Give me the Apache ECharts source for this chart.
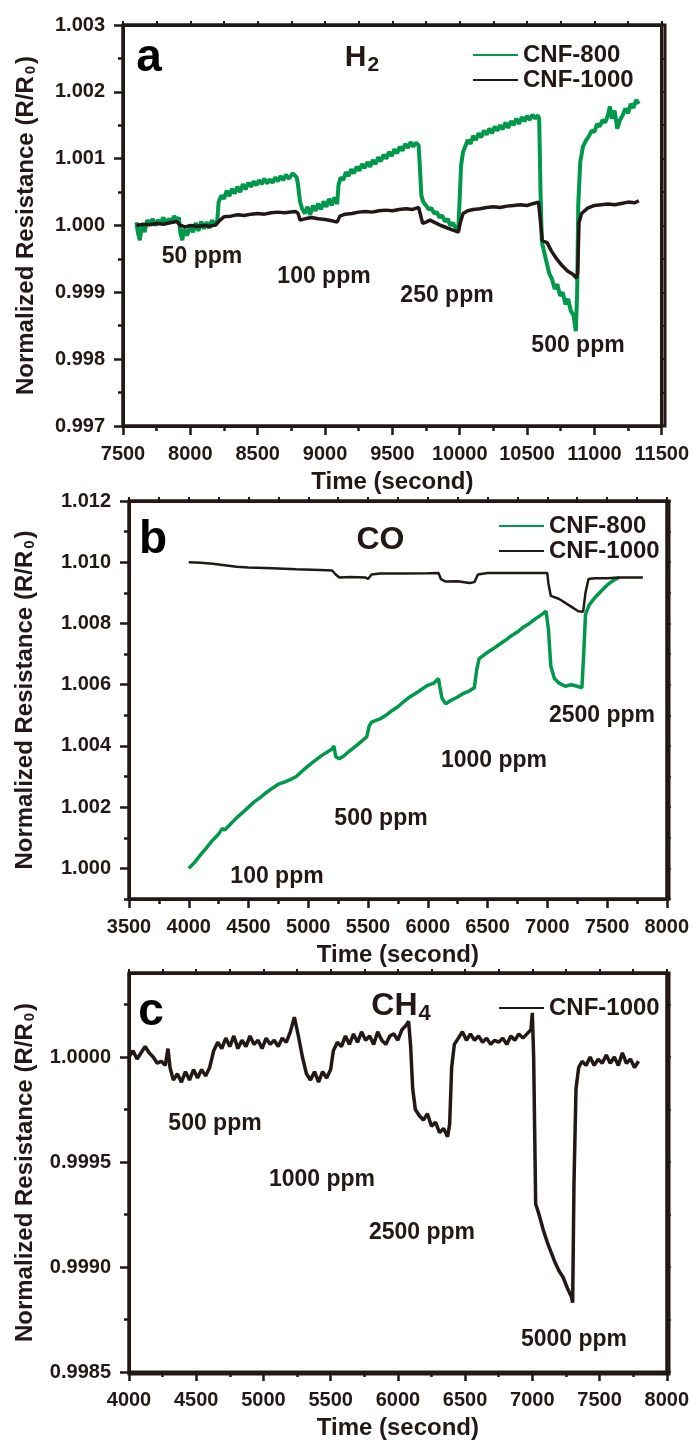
<!DOCTYPE html>
<html>
<head>
<meta charset="utf-8">
<script src="https://cdn.jsdelivr.net/npm/echarts@6/dist/echarts.min.js"></script>
<style>
  html, body { margin: 0; padding: 0; background: #fff; }
  #main { width: 692px; height: 1441px; }
</style>
</head>
<body>
<div id="main"></div>
<script>
// ---- data: [time (s), R/R0] ----

// (a) H2
var h2Cnf800 = [
  [7600,1.00005],[7610,0.99990],[7625,0.99978],[7640,1.00002],[7660,0.99990],[7680,1.00008],[7700,1.00002],
  [7720,1.00010],[7740,1.00000],[7760,1.00008],[7780,1.00004],[7800,1.00012],[7820,1.00003],[7840,1.00010],
  [7860,1.00006],[7880,1.00014],[7900,1.00008],[7915,1.00012],[7925,0.99990],[7940,0.99978],[7955,0.99995],
  [7975,0.99985],[8000,1.00000],[8020,0.99990],[8040,1.00004],[8060,0.99992],[8080,1.00006],[8100,0.99995],
  [8120,1.00005],[8140,0.99996],[8160,1.00008],[8180,1.00000],[8200,1.00008],[8210,1.00035],[8230,1.00045],
  [8250,1.00040],[8270,1.00052],[8290,1.00044],[8310,1.00055],[8330,1.00048],[8350,1.00058],[8370,1.00050],
  [8390,1.00062],[8410,1.00054],[8430,1.00064],[8450,1.00058],[8470,1.00066],[8490,1.00060],[8510,1.00068],
  [8530,1.00062],[8550,1.00070],[8570,1.00063],[8590,1.00069],[8610,1.00064],[8630,1.00072],[8650,1.00066],
  [8670,1.00074],[8690,1.00068],[8710,1.00076],[8730,1.00070],[8760,1.00078],[8790,1.00072],[8800,1.00060],
  [8815,1.00035],[8830,1.00025],[8850,1.00018],[8870,1.00028],[8890,1.00016],[8910,1.00030],[8930,1.00022],
  [8950,1.00033],[8970,1.00024],[8990,1.00036],[9010,1.00028],[9030,1.00040],[9050,1.00030],[9070,1.00042],
  [9090,1.00032],[9100,1.00060],[9115,1.00072],[9135,1.00068],[9155,1.00080],[9175,1.00074],[9195,1.00084],
  [9215,1.00078],[9235,1.00088],[9255,1.00082],[9275,1.00092],[9295,1.00086],[9315,1.00095],[9335,1.00088],
  [9355,1.00098],[9375,1.00092],[9395,1.00102],[9415,1.00096],[9435,1.00106],[9455,1.00100],[9475,1.00110],
  [9495,1.00104],[9515,1.00114],[9535,1.00108],[9555,1.00118],[9575,1.00112],[9595,1.00122],[9615,1.00116],
  [9635,1.00125],[9655,1.00118],[9675,1.00124],[9695,1.00120],[9705,1.00085],[9715,1.00045],[9730,1.00035],
  [9750,1.00030],[9770,1.00024],[9790,1.00026],[9810,1.00018],[9830,1.00020],[9850,1.00012],[9870,1.00015],
  [9890,1.00006],[9910,1.00010],[9930,1.00000],[9950,1.00004],[9970,0.99996],[9990,0.99998],[10000,1.00040],
  [10010,1.00090],[10025,1.00110],[10040,1.00118],[10060,1.00128],[10080,1.00122],[10100,1.00134],[10120,1.00128],
  [10140,1.00138],[10160,1.00132],[10180,1.00142],[10200,1.00136],[10220,1.00145],[10240,1.00138],[10260,1.00148],
  [10280,1.00142],[10300,1.00150],[10320,1.00144],[10340,1.00154],[10360,1.00146],[10380,1.00156],[10400,1.00150],
  [10420,1.00160],[10440,1.00152],[10460,1.00162],[10480,1.00156],[10500,1.00164],[10520,1.00158],[10540,1.00166],
  [10560,1.00160],[10580,1.00165],[10590,1.00160],[10600,1.00050],[10610,0.99975],[10625,0.99962],[10645,0.99945],
  [10665,0.99928],[10685,0.99920],[10705,0.99905],[10725,0.99912],[10745,0.99895],[10765,0.99900],[10785,0.99882],
  [10805,0.99890],[10825,0.99872],[10845,0.99866],[10862,0.99842],[10872,0.99900],[10880,1.00030],[10895,1.00095],
  [10915,1.00118],[10940,1.00128],[10960,1.00134],[10980,1.00142],[11000,1.00140],[11020,1.00152],[11040,1.00148],
  [11060,1.00158],[11080,1.00154],[11100,1.00165],[11115,1.00178],[11130,1.00160],[11150,1.00172],[11170,1.00145],
  [11190,1.00158],[11210,1.00165],[11230,1.00175],[11250,1.00168],[11270,1.00182],[11290,1.00176],[11310,1.00188],
  [11330,1.00182]
];
var h2Cnf1000 = [
  [7600,1.00000],[7650,1.00002],[7700,1.00001],[7750,1.00003],[7800,1.00002],[7850,1.00004],[7900,1.00006],
  [7920,1.00001],[7960,0.99998],[8000,1.00000],[8050,0.99999],[8100,1.00000],[8150,0.99999],[8190,1.00001],
  [8220,1.00008],[8250,1.00013],[8300,1.00014],[8350,1.00016],[8400,1.00015],[8450,1.00017],[8500,1.00018],
  [8550,1.00017],[8600,1.00019],[8650,1.00020],[8700,1.00019],[8780,1.00021],[8800,1.00018],[8815,1.00008],
  [8850,1.00010],[8900,1.00012],[8950,1.00010],[9000,1.00009],[9050,1.00007],[9090,1.00005],[9110,1.00014],
  [9150,1.00017],[9200,1.00018],[9250,1.00020],[9300,1.00021],[9350,1.00020],[9400,1.00022],[9450,1.00023],
  [9500,1.00022],[9550,1.00024],[9600,1.00025],[9650,1.00024],[9695,1.00027],[9710,1.00015],[9725,1.00003],
  [9750,1.00005],[9780,1.00008],[9820,1.00004],[9860,1.00000],[9900,0.99997],[9950,0.99993],[9990,0.99990],
  [10005,1.00005],[10025,1.00018],[10060,1.00022],[10100,1.00024],[10150,1.00025],[10200,1.00027],[10250,1.00028],
  [10300,1.00027],[10350,1.00029],[10400,1.00030],[10450,1.00031],[10500,1.00030],[10550,1.00033],[10585,1.00035],
  [10600,1.00005],[10612,0.99978],[10630,0.99976],[10650,0.99974],[10680,0.99962],[10720,0.99950],[10760,0.99940],
  [10800,0.99932],[10840,0.99927],[10868,0.99921],[10876,0.99930],[10886,1.00005],[10905,1.00018],[10950,1.00026],
  [11000,1.00030],[11050,1.00031],[11100,1.00032],[11150,1.00031],[11200,1.00033],[11250,1.00035],[11300,1.00034],
  [11330,1.00037]
];

// (b) CO
var coCnf800 = [
  [4000,1.00000],[4050,1.00020],[4100,1.00045],[4150,1.00068],[4200,1.00092],[4250,1.00112],[4280,1.00130],
  [4300,1.00125],[4350,1.00145],[4400,1.00165],[4450,1.00182],[4500,1.00200],[4550,1.00218],[4600,1.00232],
  [4650,1.00248],[4700,1.00262],[4750,1.00275],[4800,1.00282],[4850,1.00290],[4900,1.00300],[4950,1.00318],
  [5000,1.00335],[5050,1.00350],[5100,1.00365],[5150,1.00378],[5200,1.00390],[5215,1.00400],[5230,1.00365],
  [5260,1.00358],[5300,1.00368],[5350,1.00385],[5400,1.00400],[5460,1.00420],[5490,1.00430],[5510,1.00465],
  [5530,1.00478],[5600,1.00488],[5650,1.00500],[5700,1.00515],[5750,1.00528],[5800,1.00545],[5850,1.00560],
  [5900,1.00572],[5950,1.00585],[6000,1.00598],[6050,1.00605],[6090,1.00620],[6100,1.00595],[6120,1.00555],
  [6150,1.00538],[6200,1.00550],[6250,1.00560],[6300,1.00572],[6350,1.00580],[6390,1.00590],[6410,1.00650],
  [6430,1.00685],[6480,1.00700],[6550,1.00718],[6600,1.00732],[6650,1.00745],[6700,1.00760],[6750,1.00772],
  [6800,1.00788],[6850,1.00800],[6900,1.00815],[6950,1.00828],[6990,1.00840],[7010,1.00780],[7030,1.00660],
  [7060,1.00620],[7100,1.00605],[7150,1.00595],[7200,1.00600],[7250,1.00595],[7290,1.00590],[7305,1.00700],
  [7320,1.00830],[7350,1.00860],[7400,1.00885],[7450,1.00905],[7500,1.00925],[7550,1.00940],[7600,1.00950]
];
var coCnf1000 = [
  [4000,1.01000],[4100,1.00998],[4200,1.00995],[4300,1.00990],[4400,1.00985],[4500,1.00983],[4700,1.00980],
  [4900,1.00977],[5100,1.00975],[5200,1.00973],[5230,1.00960],[5260,1.00950],[5350,1.00952],[5480,1.00950],
  [5500,1.00945],[5530,1.00960],[5600,1.00963],[5800,1.00963],[6000,1.00964],[6090,1.00965],[6110,1.00945],
  [6150,1.00937],[6250,1.00938],[6350,1.00932],[6390,1.00935],[6420,1.00960],[6500,1.00965],[7000,1.00965],
  [7010,1.00930],[7030,1.00890],[7100,1.00880],[7200,1.00855],[7260,1.00840],[7300,1.00838],[7320,1.00900],
  [7345,1.00945],[7400,1.00948],[7500,1.00948],[7600,1.00950],[7700,1.00950],[7800,1.00950]
];

// (c) CH4
var ch4Cnf1000 = [
  [4000,1.00000],[4030,1.00003],[4060,0.99999],[4090,1.00002],[4120,1.00005],[4150,1.00002],[4180,1.00000],
  [4210,0.99997],[4240,0.99998],[4270,0.99996],[4290,1.00004],[4305,0.99995],[4330,0.99989],[4360,0.99992],
  [4390,0.99988],[4420,0.99993],[4450,0.99989],[4480,0.99994],[4510,0.99990],[4540,0.99994],[4570,0.99991],
  [4600,0.99995],[4630,1.00003],[4660,1.00007],[4690,1.00004],[4720,1.00009],[4750,1.00005],[4780,1.00010],
  [4810,1.00004],[4840,1.00008],[4870,1.00005],[4900,1.00010],[4930,1.00006],[4960,1.00008],[4990,1.00004],
  [5020,1.00009],[5050,1.00006],[5080,1.00008],[5110,1.00005],[5140,1.00009],[5170,1.00007],[5200,1.00012],
  [5230,1.00019],[5260,1.00010],[5290,1.00000],[5320,0.99992],[5350,0.99989],[5380,0.99993],[5410,0.99988],
  [5440,0.99993],[5470,0.99990],[5500,0.99994],[5520,1.00003],[5550,1.00007],[5580,1.00005],[5610,1.00010],
  [5640,1.00006],[5670,1.00011],[5700,1.00007],[5730,1.00012],[5760,1.00008],[5790,1.00010],[5820,1.00006],
  [5850,1.00012],[5880,1.00008],[5910,1.00006],[5940,1.00010],[5970,1.00011],[6000,1.00008],[6030,1.00013],
  [6060,1.00015],[6080,1.00017],[6095,1.00005],[6110,0.99985],[6130,0.99975],[6160,0.99972],[6190,0.99970],
  [6220,0.99973],[6250,0.99967],[6280,0.99969],[6310,0.99964],[6340,0.99966],[6370,0.99962],[6385,0.99968],
  [6400,0.99995],[6420,1.00006],[6450,1.00009],[6480,1.00012],[6510,1.00008],[6540,1.00011],[6570,1.00008],
  [6600,1.00010],[6630,1.00007],[6660,1.00009],[6690,1.00006],[6720,1.00008],[6750,1.00007],[6780,1.00009],
  [6810,1.00006],[6840,1.00010],[6870,1.00008],[6900,1.00011],[6930,1.00009],[6960,1.00011],[6990,1.00013],
  [7000,1.00021],[7010,1.00000],[7025,0.99930],[7050,0.99925],[7080,0.99918],[7110,0.99912],[7140,0.99907],
  [7170,0.99902],[7200,0.99898],[7230,0.99895],[7260,0.99890],[7290,0.99886],[7300,0.99883],[7310,0.99940],
  [7325,0.99985],[7345,0.99995],[7370,0.99998],[7400,0.99996],[7430,1.00000],[7460,0.99996],[7490,0.99999],
  [7520,0.99997],[7550,1.00001],[7580,0.99997],[7610,1.00000],[7640,0.99996],[7670,1.00002],[7700,0.99997],
  [7730,0.99999],[7760,0.99995],[7790,0.99998]
];

// axis ranges and tick values
var h2XRange = [7500, 11500];
var h2YRange = [0.997, 1.003];
var coXRange = [3500, 8000];
var coYRange = [0.999, 1.012];
var ch4XRange = [4000, 8000];
var ch4YRange = [0.9985, 1.0004];
var h2YMajor = [0.997, 0.998, 0.999, 1.000, 1.001, 1.002, 1.003];
var h2YMinor = [0.9975, 0.9985, 0.9995, 1.0005, 1.0015, 1.0025];
var coYMajor = [1.000, 1.002, 1.004, 1.006, 1.008, 1.010, 1.012];
var coYMinor = [0.999, 1.001, 1.003, 1.005, 1.007, 1.009, 1.011];
var ch4YMajor = [0.9985, 0.9990, 0.9995, 1.0000];
var ch4YMinor = [0.99875, 0.99925, 0.99975, 1.00025];

var INK = '#231815';
var GREEN = '#00984A';
var FONT = '"Liberation Sans", Arial, sans-serif';

// plot boxes: left, top, width, height (px)
var boxes = [
  [123, 25, 542, 401],
  [129, 501, 540, 398],
  [129, 973, 540, 401]
];

var chart = echarts.init(document.getElementById('main'));

function xPair(grid, range) {
  return [
    {
      gridIndex: grid, type: 'value', min: range[0], max: range[1], interval: 500, position: 'bottom',
      name: 'Time (second)', nameLocation: 'middle', nameGap: 44,
      nameTextStyle: { fontSize: 24, fontWeight: 'bold', color: INK, fontFamily: FONT },
      axisLine: { show: true, onZero: false, lineStyle: { color: INK, width: 3 } },
      axisTick: { show: true, inside: false, length: 9, lineStyle: { color: INK, width: 2.5 } },
      minorTick: { show: true, splitNumber: 2, length: 5, lineStyle: { color: INK, width: 2.5 } },
      axisLabel: { margin: 18, fontSize: 20, fontWeight: 'bold', color: INK, fontFamily: FONT,
        showMinLabel: true, showMaxLabel: true, formatter: function (v) { return String(v); } },
      splitLine: { show: false }
    },
    {
      gridIndex: grid, type: 'value', min: range[0], max: range[1], interval: 500, position: 'top',
      axisLine: { show: true, onZero: false, lineStyle: { color: INK, width: 3 } },
      axisTick: { show: true, inside: false, length: 4, lineStyle: { color: INK, width: 2 } },
      minorTick: { show: true, splitNumber: 2, length: 4, lineStyle: { color: INK, width: 2 } },
      axisLabel: { show: false },
      splitLine: { show: false }
    }
  ];
}

function yTriple(grid, range, major, minor, digits, gap) {
  return [
    {
      gridIndex: grid, type: 'value', min: range[0], max: range[1], position: 'left',
      name: 'Normalized Resistance (R/R{sub|0})', nameLocation: 'middle', nameGap: gap, nameRotate: 90,
      nameTextStyle: { fontSize: 24, fontWeight: 'bold', color: INK, fontFamily: FONT,
        rich: { sub: { fontSize: 15, fontWeight: 'bold', color: INK, fontFamily: FONT, padding: [0, 2, 0, 2], verticalAlign: 'bottom' } } },
      axisLine: { show: true, onZero: false, lineStyle: { color: INK, width: 3 } },
      axisTick: { show: true, inside: false, length: 9, customValues: major, lineStyle: { color: INK, width: 2.5 } },
      axisLabel: { margin: 18, fontSize: 20, fontWeight: 'bold', color: INK, fontFamily: FONT, customValues: major,
        formatter: function (v) { return v.toFixed(digits); } },
      splitLine: { show: false }
    },
    {
      gridIndex: grid, type: 'value', min: range[0], max: range[1], position: 'left',
      axisLine: { show: false },
      axisTick: { show: true, inside: false, length: 5, customValues: minor, lineStyle: { color: INK, width: 2.5 } },
      axisLabel: { show: false, customValues: minor },
      splitLine: { show: false }
    },
    {
      gridIndex: grid, type: 'value', min: range[0], max: range[1], position: 'right',
      axisLine: { show: true, onZero: false, lineStyle: { color: INK, width: 3 } },
      axisTick: { show: true, inside: false, length: 4, customValues: major.concat(minor), lineStyle: { color: INK, width: 2 } },
      axisLabel: { show: false, customValues: major },
      splitLine: { show: false }
    }
  ];
}

// frame round each plot box, on its own canvas layer on top
function frame(b) {
  var x0 = b[0], y0 = b[1], x1 = b[0] + b[2], y1 = b[1] + b[3];
  return {
    type: 'polyline', zlevel: 1, z: 100, silent: true,
    shape: { points: [[x0, y0], [x1, y0], [x1, y1], [x0, y1], [x0, y0]] },
    style: { stroke: INK, lineWidth: 3, fill: null, lineJoin: 'miter' }
  };
}

function note(text, x, y) {
  return {
    type: 'text', x: x, y: y, z: 10,
    style: { text: text, fill: INK, font: 'bold 23px ' + FONT, textAlign: 'center', textVerticalAlign: 'middle' }
  };
}

function gasLabel(main, sub, x, y, size) {
  return {
    type: 'text', x: x, y: y, z: 10,
    style: {
      text: '{m|' + main + '}{s|' + sub + '}', textAlign: 'center', textVerticalAlign: 'middle',
      rich: {
        m: { fontSize: size, fontWeight: 'bold', fill: INK, fontFamily: FONT, lineHeight: size, verticalAlign: 'bottom' },
        s: { fontSize: Math.round(size * 0.7), fontWeight: 'bold', fill: INK, fontFamily: FONT, lineHeight: size, verticalAlign: 'bottom', padding: [0, 0, -3, 1] }
      }
    }
  };
}

function panelLetter(ch, x, y) {
  return {
    type: 'text', x: x, y: y, z: 10,
    style: { text: ch, fill: '#000', font: 'bold 46px ' + FONT, textAlign: 'center', textVerticalAlign: 'middle' }
  };
}

var legendText = { fontSize: 24, fontWeight: 'bold', color: INK, fontFamily: FONT, lineHeight: 22 };

var option = {
  animation: false,
  grid: boxes.map(function (b) {
    return { left: b[0], top: b[1], width: b[2], height: b[3], show: true, borderColor: INK, borderWidth: 3 };
  }),
  legend: [
    { data: ['CNF-800', 'CNF-1000'], orient: 'vertical', left: 468, top: 38, itemWidth: 45, itemHeight: 2, itemGap: 1,
      icon: 'rect', textStyle: legendText, selectedMode: false },
    { data: ['CNF-800', 'CNF-1000'], orient: 'vertical', left: 494, top: 509, itemWidth: 45, itemHeight: 2, itemGap: 1,
      icon: 'rect', textStyle: legendText, selectedMode: false },
    { data: ['CNF-1000'], orient: 'vertical', left: 494, top: 991, itemWidth: 45, itemHeight: 2, itemGap: 1,
      icon: 'rect', textStyle: legendText, selectedMode: false }
  ],
  xAxis: [].concat(xPair(0, h2XRange), xPair(1, coXRange), xPair(2, ch4XRange)),
  yAxis: [].concat(
    yTriple(0, h2YRange, h2YMajor, h2YMinor, 3, 85),
    yTriple(1, coYRange, coYMajor, coYMinor, 3, 92),
    yTriple(2, ch4YRange, ch4YMajor, ch4YMinor, 4, 92)
  ),
  series: [
    { name: 'CNF-800', type: 'line', xAxisIndex: 0, yAxisIndex: 0, data: h2Cnf800, showSymbol: false,
      lineStyle: { color: GREEN, width: 4, join: 'bevel' }, itemStyle: { color: GREEN } },
    { name: 'CNF-1000', type: 'line', xAxisIndex: 0, yAxisIndex: 0, data: h2Cnf1000, showSymbol: false,
      lineStyle: { color: INK, width: 3.5 }, itemStyle: { color: INK } },
    { name: 'CNF-800', type: 'line', xAxisIndex: 2, yAxisIndex: 3, data: coCnf800, showSymbol: false,
      lineStyle: { color: GREEN, width: 3.5 }, itemStyle: { color: GREEN } },
    { name: 'CNF-1000', type: 'line', xAxisIndex: 2, yAxisIndex: 3, data: coCnf1000, showSymbol: false,
      lineStyle: { color: INK, width: 2.5 }, itemStyle: { color: INK } },
    { name: 'CNF-1000', type: 'line', xAxisIndex: 4, yAxisIndex: 6, data: ch4Cnf1000, showSymbol: false,
      lineStyle: { color: INK, width: 3.5, join: 'bevel' }, itemStyle: { color: INK } }
  ],
  graphic: [
    frame(boxes[0]), frame(boxes[1]), frame(boxes[2]),

    panelLetter('a', 149, 58),
    gasLabel('H', '2', 362, 58, 30),
    note('50 ppm', 202, 257),
    note('100 ppm', 324, 277),
    note('250 ppm', 447, 296),
    note('500 ppm', 578, 346),

    panelLetter('b', 153, 540),
    gasLabel('CO', '', 381, 540, 32),
    note('100 ppm', 277, 877),
    note('500 ppm', 381, 819),
    note('1000 ppm', 494, 761),
    note('2500 ppm', 602, 716),

    panelLetter('c', 151, 1012),
    gasLabel('CH', '4', 401, 1006, 32),
    note('500 ppm', 215, 1124),
    note('1000 ppm', 322, 1180),
    note('2500 ppm', 422, 1233),
    note('5000 ppm', 574, 1340)
  ]
};

chart.setOption(option);
</script>
</body>
</html>
